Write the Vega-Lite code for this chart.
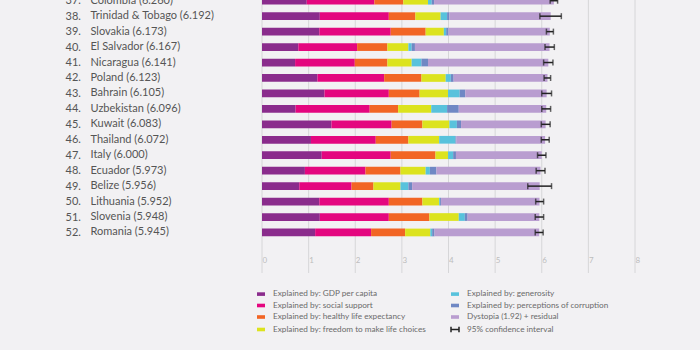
{
  "$schema": "https://vega.github.io/schema/vega-lite/v6.json",
  "width": 373,
  "height": 273,
  "autosize": "none",
  "padding": {"left": 262, "top": 0, "right": 65, "bottom": 77},
  "background": "#f2f1f3",
  "config": {
    "view": {"stroke": null},
    "font": "Lato"
  },
  "datasets": {
    "rows": [
      {"rank": 37, "label": "Colombia (6.260)", "score": 6.260, "gdp": 0.96, "social": 1.45, "health": 0.62, "freedom": 0.53, "generosity": 0.08, "corruption": 0.05, "dystopia": 2.57, "lo": 6.18, "hi": 6.34},
      {"rank": 38, "label": "Trinidad & Tobago (6.192)", "score": 6.192, "gdp": 1.24, "social": 1.48, "health": 0.57, "freedom": 0.54, "generosity": 0.14, "corruption": 0.05, "dystopia": 2.172, "lo": 5.96, "hi": 6.42},
      {"rank": 39, "label": "Slovakia (6.173)", "score": 6.173, "gdp": 1.23, "social": 1.53, "health": 0.75, "freedom": 0.39, "generosity": 0.05, "corruption": 0.05, "dystopia": 2.173, "lo": 6.10, "hi": 6.25},
      {"rank": 40, "label": "El Salvador (6.167)", "score": 6.167, "gdp": 0.78, "social": 1.26, "health": 0.65, "freedom": 0.45, "generosity": 0.07, "corruption": 0.07, "dystopia": 2.887, "lo": 6.07, "hi": 6.27},
      {"rank": 41, "label": "Nicaragua (6.141)", "score": 6.141, "gdp": 0.71, "social": 1.28, "health": 0.70, "freedom": 0.52, "generosity": 0.21, "corruption": 0.14, "dystopia": 2.581, "lo": 6.04, "hi": 6.24},
      {"rank": 42, "label": "Poland (6.123)", "score": 6.123, "gdp": 1.19, "social": 1.43, "health": 0.80, "freedom": 0.52, "generosity": 0.11, "corruption": 0.06, "dystopia": 2.013, "lo": 6.05, "hi": 6.19},
      {"rank": 43, "label": "Bahrain (6.105)", "score": 6.105, "gdp": 1.34, "social": 1.38, "health": 0.66, "freedom": 0.61, "generosity": 0.25, "corruption": 0.12, "dystopia": 1.745, "lo": 6.00, "hi": 6.21},
      {"rank": 44, "label": "Uzbekistan (6.096)", "score": 6.096, "gdp": 0.72, "social": 1.59, "health": 0.61, "freedom": 0.71, "generosity": 0.34, "corruption": 0.25, "dystopia": 1.876, "lo": 6.00, "hi": 6.19},
      {"rank": 45, "label": "Kuwait (6.083)", "score": 6.083, "gdp": 1.49, "social": 1.29, "health": 0.66, "freedom": 0.58, "generosity": 0.16, "corruption": 0.09, "dystopia": 1.813, "lo": 5.99, "hi": 6.18},
      {"rank": 46, "label": "Thailand (6.072)", "score": 6.072, "gdp": 1.05, "social": 1.39, "health": 0.70, "freedom": 0.66, "generosity": 0.35, "corruption": 0.02, "dystopia": 1.902, "lo": 5.99, "hi": 6.16},
      {"rank": 47, "label": "Italy (6.000)", "score": 6.000, "gdp": 1.28, "social": 1.48, "health": 0.96, "freedom": 0.27, "generosity": 0.11, "corruption": 0.06, "dystopia": 1.84, "lo": 5.91, "hi": 6.09},
      {"rank": 48, "label": "Ecuador (5.973)", "score": 5.973, "gdp": 0.92, "social": 1.30, "health": 0.75, "freedom": 0.54, "generosity": 0.09, "corruption": 0.14, "dystopia": 2.233, "lo": 5.88, "hi": 6.07},
      {"rank": 49, "label": "Belize (5.956)", "score": 5.956, "gdp": 0.80, "social": 1.12, "health": 0.47, "freedom": 0.58, "generosity": 0.17, "corruption": 0.08, "dystopia": 2.736, "lo": 5.70, "hi": 6.21},
      {"rank": 50, "label": "Lithuania (5.952)", "score": 5.952, "gdp": 1.23, "social": 1.49, "health": 0.72, "freedom": 0.36, "generosity": 0.02, "corruption": 0.02, "dystopia": 2.112, "lo": 5.87, "hi": 6.04},
      {"rank": 51, "label": "Slovenia (5.948)", "score": 5.948, "gdp": 1.24, "social": 1.48, "health": 0.87, "freedom": 0.63, "generosity": 0.13, "corruption": 0.06, "dystopia": 1.538, "lo": 5.86, "hi": 6.04},
      {"rank": 52, "label": "Romania (5.945)", "score": 5.945, "gdp": 1.14, "social": 1.20, "health": 0.73, "freedom": 0.54, "generosity": 0.04, "corruption": 0.05, "dystopia": 2.245, "lo": 5.86, "hi": 6.03}
    ],
    "factors": [
      {"key": "gdp", "factor": "Explained by: GDP per capita", "k": 1},
      {"key": "social", "factor": "Explained by: social support", "k": 2},
      {"key": "health", "factor": "Explained by: healthy life expectancy", "k": 3},
      {"key": "freedom", "factor": "Explained by: freedom to make life choices", "k": 4},
      {"key": "generosity", "factor": "Explained by: generosity", "k": 5},
      {"key": "corruption", "factor": "Explained by: perceptions of corruption", "k": 6},
      {"key": "dystopia", "factor": "Dystopia (1.92) + residual", "k": 7}
    ],
    "grid": [{"g": 0}, {"g": 1}, {"g": 2}, {"g": 3}, {"g": 4}, {"g": 5}, {"g": 6}, {"g": 7}, {"g": 8}]
  },
  "layer": [
    {
      "layer": [
        {
          "data": {"name": "grid"},
          "mark": {"type": "rule", "color": "#d6d6d8", "strokeWidth": 1},
          "encoding": {
            "x": {"field": "g", "type": "quantitative"}
          }
        },
        {
          "data": {"name": "rows"},
          "transform": [
            {"fold": ["gdp", "social", "health", "freedom", "generosity", "corruption", "dystopia"]},
            {"lookup": "key", "from": {"data": {"name": "factors"}, "key": "key", "fields": ["factor", "k"]}}
          ],
          "mark": {"type": "bar"},
          "encoding": {
            "y": {
              "field": "label", "type": "nominal",
              "sort": {"field": "rank", "op": "min"},
              "scale": {"range": [-7, 240.2], "paddingInner": 0.5, "paddingOuter": 0.25},
              "axis": {
                "title": null, "ticks": false, "tickSize": 0, "domain": false, "grid": false,
                "labelAlign": "left", "labelPadding": 172, "labelBaseline": "middle",
                "labelFontSize": 11, "labelColor": "#555555", "labelFont": "Lato", "labelLimit": 200
              }
            },
            "x": {
              "field": "value", "type": "quantitative", "stack": "zero",
              "scale": {"domain": [0, 8], "nice": false},
              "axis": {
                "title": null, "values": [0, 1, 2, 3, 4, 5, 6, 7, 8],
                "grid": false,
                "domain": false, "ticks": false, "tickSize": 0,
                "labelAlign": "left", "labelDx": 4, "labelBaseline": "middle", "labelPadding": 0,
                "labelFontSize": 8, "labelColor": "#bdbdbd", "offset": -13
              }
            },
            "order": {"field": "k", "type": "quantitative"},
            "color": {
              "field": "factor", "type": "nominal",
              "scale": {
                "domain": [
                  "Explained by: GDP per capita", "Explained by: social support",
                  "Explained by: healthy life expectancy", "Explained by: freedom to make life choices",
                  "Explained by: generosity", "Explained by: perceptions of corruption",
                  "Dystopia (1.92) + residual", "95% confidence interval"
                ],
                "range": ["#8a2c8c", "#e4067f", "#f26524", "#dce31e", "#58c2dc", "#6f88c4", "#b99dd0", "#222222"]
              },
              "legend": {
                "title": null, "orient": "none", "legendX": -6, "legendY": 289,
                "columns": 2, "columnPadding": 22, "rowPadding": 1.5,
                "labelFontSize": 8.2, "labelColor": "#6a6a6a", "labelFont": "Lato", "labelLimit": 250,
                "symbolSize": 64, "labelOffset": 7,
                "encode": {
                  "symbols": {
                    "update": {
                      "shape": {"signal": "datum.value === '95% confidence interval' ? 'M-1,0H1M-1,-0.7V0.7M1,-0.7V0.7' : 'M-1,-0.45H1V0.45H-1Z'"},
                      "stroke": {"signal": "datum.value === '95% confidence interval' ? '#222222' : 'transparent'"},
                      "strokeWidth": {"value": 1.5}
                    }
                  }
                }
              }
            }
          }
        },
        {
          "data": {"name": "rows"},
          "mark": {"type": "rule", "color": "#222222", "strokeWidth": 1.5},
          "encoding": {
            "y": {"field": "label", "type": "nominal", "sort": {"field": "rank", "op": "min"}},
            "x": {"field": "lo", "type": "quantitative"},
            "x2": {"field": "hi"}
          }
        },
        {
          "data": {"name": "rows"},
          "mark": {"type": "tick", "color": "#222222", "thickness": 1.5, "size": 6, "orient": "vertical"},
          "encoding": {
            "y": {"field": "label", "type": "nominal", "sort": {"field": "rank", "op": "min"}},
            "x": {"field": "lo", "type": "quantitative"}
          }
        },
        {
          "data": {"name": "rows"},
          "mark": {"type": "tick", "color": "#222222", "thickness": 1.5, "size": 6, "orient": "vertical"},
          "encoding": {
            "y": {"field": "label", "type": "nominal", "sort": {"field": "rank", "op": "min"}},
            "x": {"field": "hi", "type": "quantitative"}
          }
        }
      ]
    },
    {
      "data": {"name": "rows"},
      "mark": {"type": "point", "opacity": 0},
      "encoding": {
        "y": {
          "field": "rank", "type": "ordinal",
          "scale": {"range": [-7, 240.2], "paddingInner": 0.5, "paddingOuter": 0.25},
          "axis": {
            "orient": "left", "title": null, "ticks": false, "tickSize": 0, "domain": false, "grid": false,
            "labelAlign": "left", "labelPadding": 197, "labelBaseline": "middle",
            "labelFontSize": 11, "labelColor": "#555555", "labelFont": "Lato",
            "labelExpr": "datum.label + '.'"
          }
        },
        "x": {"field": "score", "type": "quantitative"}
      }
    }
  ],
  "resolve": {"scale": {"y": "independent"}, "axis": {"y": "independent"}}
}
